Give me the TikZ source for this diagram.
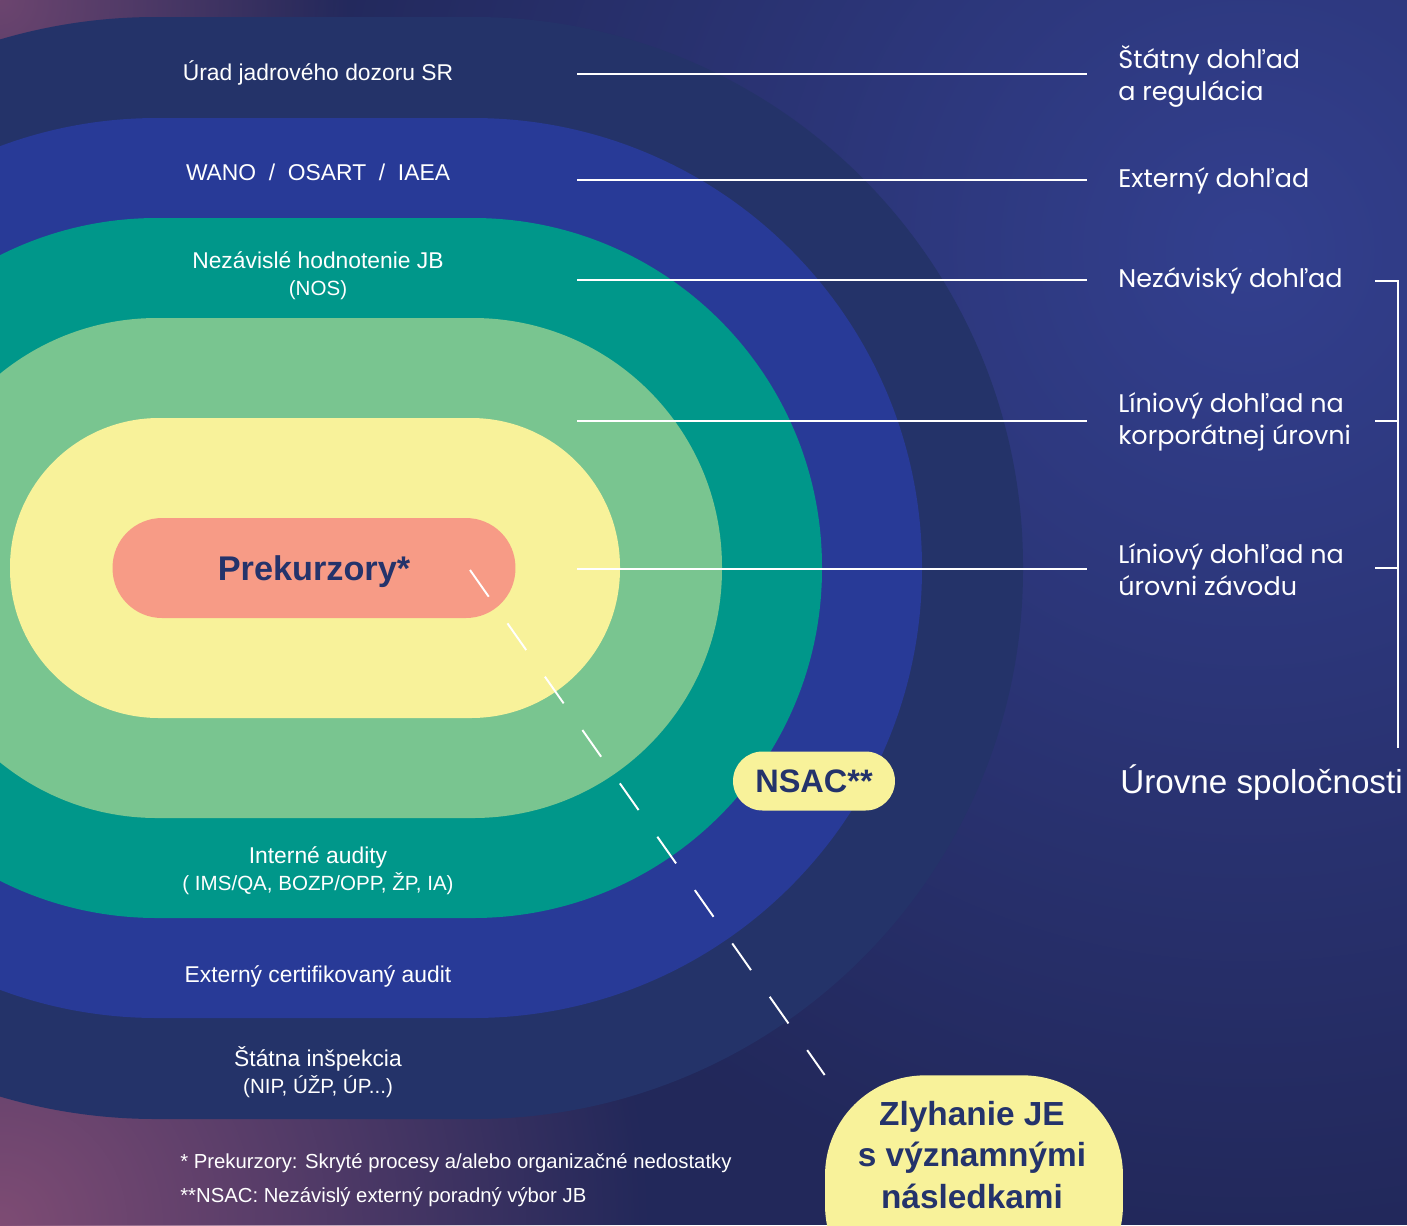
\documentclass[tikz,border=0pt]{standalone}
\usepackage{fontspec}
\setmainfont{Liberation Sans}
\newfontfamily\gotika{Poppins}
\usetikzlibrary{positioning,fadings}

\definecolor{pozadie}{HTML}{22285A}
\definecolor{svetla}{HTML}{33408F}
\definecolor{fialova}{HTML}{7E4C74}
\definecolor{vrstvaA}{HTML}{243369}
\definecolor{vrstvaB}{HTML}{283A97}
\definecolor{vrstvaC}{HTML}{00978A}
\definecolor{vrstvaD}{HTML}{79C590}
\definecolor{zlta}{HTML}{F8F29A}
\definecolor{losos}{HTML}{F79B86}
\definecolor{tmava}{HTML}{24336B}

\newcommand{\zatv}{\fontsize{11.7}{13}\selectfont}

\tikzfading[name=ziara, inner color=transparent!0, outer color=transparent!100]

\tikzset{
  popis/.style={text=white, align=center, font=\fontsize{13}{15.3}\selectfont},
  pravy/.style={text=white, align=left, anchor=west, inner sep=0pt, font=\gotika\fontsize{14.5}{18.2}\selectfont},
  ciara/.style={white, line width=1pt},
  poznamka/.style={text=white, anchor=west, inner sep=0pt, font=\fontsize{11.55}{13}\selectfont},
  bublina/.style={fill=zlta, text=tmava, inner sep=0pt, text depth=0pt, font=\bfseries\fontsize{18.5}{23.8}\selectfont},
}

\begin{document}
\begin{tikzpicture}[x=0.02cm, y=-0.02cm]
    % Pozadie
    \useasboundingbox (0,0) rectangle (1407,1225);
    \clip (0,0) rectangle (1407,1225);
    \fill[pozadie] (0,0) rectangle (1407,1225);
    \fill[svetla, path fading=ziara] (1250,250) circle (1000);
    \fill[fialova, path fading=ziara] (0,1225) circle (650);
    \fill[fialova!80!pozadie, path fading=ziara] (0,0) circle (350);

    % Vrstvy
    \fill[vrstvaA, rounded corners=10.98cm] (-393,17) rectangle (1023,1119);
    \fill[vrstvaB, rounded corners=8.98cm] (-292,118) rectangle (922,1018);
    \fill[vrstvaC, rounded corners=6.98cm] (-192,218) rectangle (822,918);
    \fill[vrstvaD, rounded corners=4.98cm] (-92,318) rectangle (722,818);
    \fill[zlta, rounded corners=2.98cm] (10,418) rectangle (620,718);
    \node[bublina, fill=losos, minimum width=8.06cm, minimum height=2cm, rounded corners=0.99cm,
          font=\bfseries\fontsize{19.5}{23}\selectfont] (prek) at (314,568) {Prekurzory*};

    % Popisy vrstiev
    \node[popis] (ujd) at (318,73) {Úrad jadrového dozoru SR};
    \node[popis] (wano) at (318,172) {WANO\ \ /\ \ OSART\ \ /\ \ IAEA};
    \node[popis] (nos) at (318,276) {Nezávislé hodnotenie JB\\{\zatv(NOS)}};
    \node[popis] (audit) at (318,871) {Interné audity\\{\zatv( IMS/QA, BOZP/OPP, ŽP, IA)}};
    \node[popis] (cert) at (318,976) {Externý certifikovaný audit};
    \node[popis] (insp) at (318,1072) {Štátna inšpekcia\\{\zatv(NIP, ÚŽP, ÚP...)}};

    % Dohlad
    \node[pravy] (dA) at (1118,76) {Štátny dohľad\\a regulácia};
    \node[pravy] (dB) at (1118,181) {Externý dohľad};
    \node[pravy] (dC) at (1118,281) {Nezáviský dohľad};
    \node[pravy] (dD) at (1118,422) {Líniový dohľad na\\korporátnej úrovni};
    \node[pravy] (dE) at (1118,570) {Líniový dohľad na\\úrovni závodu};

    \coordinate (zA) at (577,74);
    \coordinate (zB) at (577,180);
    \coordinate (zC) at (577,280);
    \coordinate (zD) at (577,421);
    \coordinate (zE) at (577,569);
    \draw[ciara, shorten >=0.62cm] (zA) -- (zA -| dA.west);
    \draw[ciara, shorten >=0.62cm] (zB) -- (zB -| dB.west);
    \draw[ciara, shorten >=0.62cm] (zC) -- (zC -| dC.west);
    \draw[ciara, shorten >=0.62cm] (zD) -- (zD -| dD.west);
    \draw[ciara, shorten >=0.62cm] (zE) -- (zE -| dE.west);

    % Zatvorka
    \draw[ciara] (1375,281) -| (1398,748);
    \draw[ciara] (1375,421) -- (1398,421);
    \draw[ciara] (1375,568) -- (1398,568);
    \node[anchor=west, inner sep=0pt, text=white, font=\fontsize{18.9}{22}\selectfont] (urovne) at (1120,783) {Úrovne spoločnosti};

    % NSAC a zlyhanie
    \node[bublina, minimum width=3.24cm, minimum height=1.18cm, rounded corners=0.59cm] (nsac) at (814,781) {NSAC**};
    \node[bublina, minimum width=5.96cm, minimum height=4.6cm, rounded corners=2cm, anchor=north] (zlyh) at (974,1075) {};
    \node[text=tmava, align=center, font=\bfseries\fontsize{19}{23.8}\selectfont] (zlyhtext) at (972,1155) {Zlyhanie JE\\s významnými\\následkami};

    \coordinate (hviezda) at (470,570);
    \draw[white, line width=1.1pt, dash pattern=on 0.652cm off 0.652cm] (hviezda) -- (zlyh.north west);

    % Poznamky
    \node[poznamka] (poznA) at (180,1163) {* Prekurzory: Skryté procesy a/alebo organizačné nedostatky};
    \node[poznamka, below=0.68cm of poznA.west, anchor=west] (poznB) {**NSAC: Nezávislý externý poradný výbor JB};
\end{tikzpicture}
\end{document}
